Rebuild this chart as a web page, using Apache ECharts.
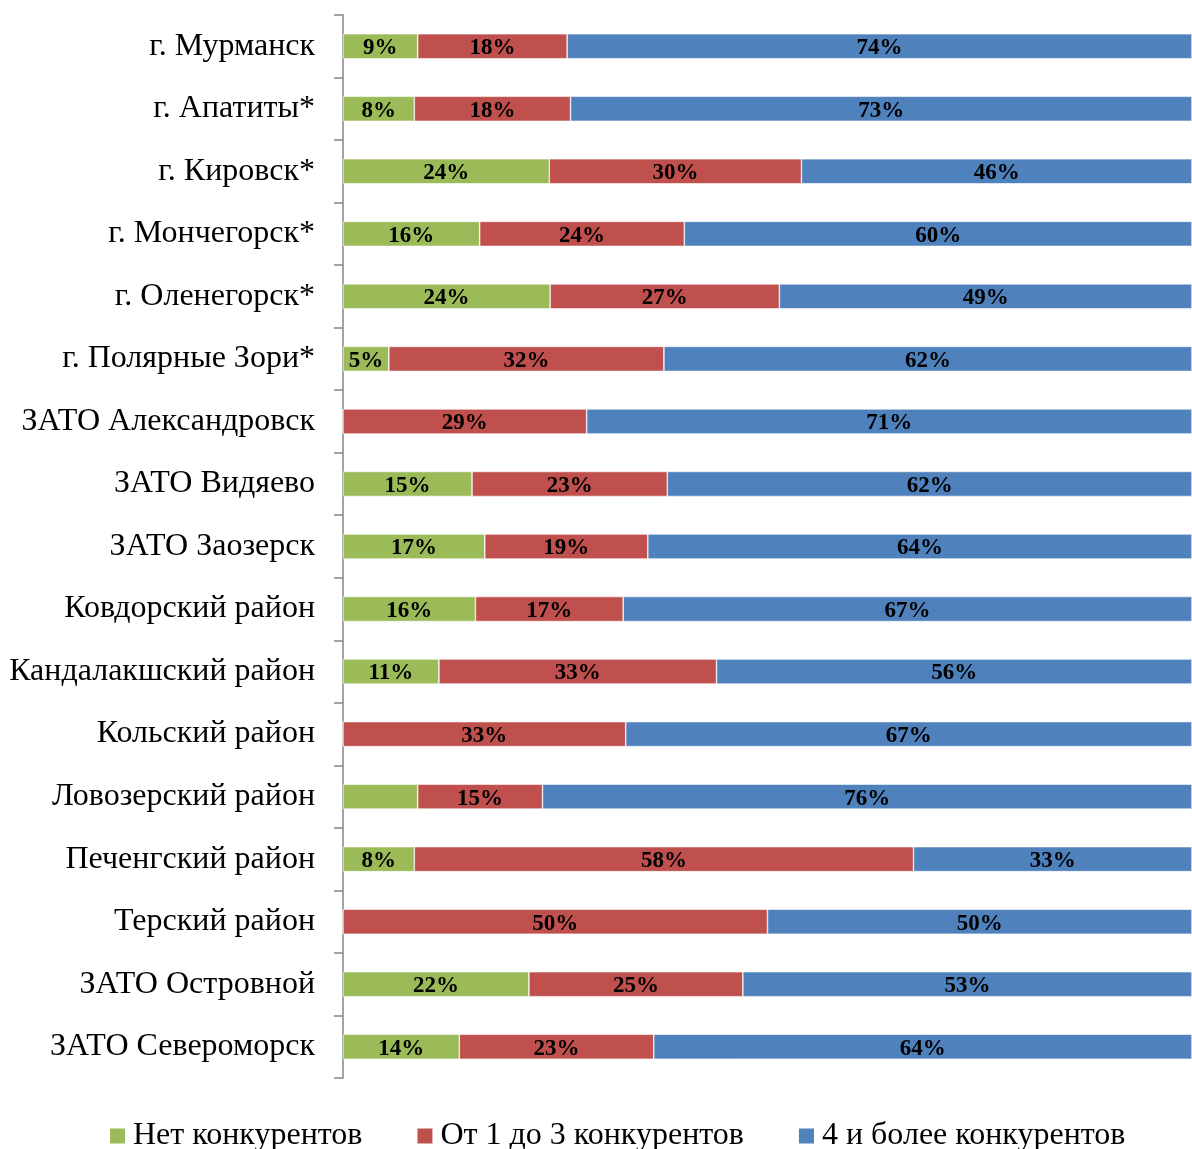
<!DOCTYPE html>
<html>
<head>
<meta charset="utf-8">
<script src="https://cdn.jsdelivr.net/npm/echarts@6/dist/echarts.min.js"></script>
<style>
  html, body { margin: 0; padding: 0; background: #fff; }
  #chart { width: 1192px; height: 1149px; }
</style>
</head>
<body>
<div id="chart"></div>
<script>
// категории (сверху вниз)
const categories = [
  'г. Мурманск', 'г. Апатиты*', 'г. Кировск*', 'г. Мончегорск*', 'г. Оленегорск*',
  'г. Полярные Зори*', 'ЗАТО Александровск', 'ЗАТО Видяево', 'ЗАТО Заозерск',
  'Ковдорский район', 'Кандалакшский район', 'Кольский район', 'Ловозерский район',
  'Печенгский район', 'Терский район', 'ЗАТО Островной', 'ЗАТО Североморск'
];

const seriesNames = ['Нет конкурентов', 'От 1 до 3 конкурентов', '4 и более конкурентов'];

// доли, считанные по длине сегментов
const noneValues = [8.8, 8.4, 24.3, 16.1, 24.4, 5.4, 0, 15.2, 16.7, 15.6, 11.3, 0, 8.8, 8.4, 0, 21.9, 13.7];
const fewValues  = [17.6, 18.4, 29.7, 24.1, 27.0, 32.4, 28.7, 23.0, 19.2, 17.4, 32.7, 33.3, 14.7, 58.8, 50.0, 25.2, 22.9];
const manyValues = [73.6, 73.2, 46.0, 59.8, 48.6, 62.2, 71.3, 61.8, 64.1, 67.0, 56.0, 66.7, 76.5, 32.8, 50.0, 52.9, 63.4];

// подписи на столбцах
const noneLabels = ['9%', '8%', '24%', '16%', '24%', '5%', '', '15%', '17%', '16%', '11%', '', '', '8%', '', '22%', '14%'];
const fewLabels  = ['18%', '18%', '30%', '24%', '27%', '32%', '29%', '23%', '19%', '17%', '33%', '33%', '15%', '58%', '50%', '25%', '23%'];
const manyLabels = ['74%', '73%', '46%', '60%', '49%', '62%', '71%', '62%', '64%', '67%', '56%', '67%', '76%', '33%', '50%', '53%', '64%'];

const colors = ['#9bbb59', '#c0504d', '#4f81bd'];
const font = '"Liberation Serif", "Times New Roman", serif';

function makeSeries(name, values, labels, color) {
  return {
    name: name,
    type: 'bar',
    stack: 'total',
    barWidth: 25,
    data: values,
    itemStyle: { color: color, borderColor: '#fff', borderWidth: 0.6 },
    label: {
      show: true,
      position: 'inside',
      offset: [0, 2],
      color: '#000',
      fontFamily: font,
      fontWeight: 'bold',
      fontSize: 23,
      formatter: (p) => labels[p.dataIndex]
    }
  };
}

const chart = echarts.init(document.getElementById('chart'));

const option = {
  animation: false,
  color: colors,
  grid: { left: 343, right: 0, top: 15, bottom: 71, containLabel: false },
  xAxis: {
    type: 'value',
    min: 0,
    max: 100,
    show: false
  },
  yAxis: {
    type: 'category',
    inverse: true,
    data: categories,
    axisLine: { lineStyle: { color: '#868686', width: 1.5 } },
    axisTick: { show: true, length: 9, lineStyle: { color: '#868686', width: 1.5 } },
    axisLabel: {
      color: '#000',
      fontFamily: font,
      fontSize: 32,
      margin: 28,
      padding: [5, 0, 0, 0]
    }
  },
  legend: {
    bottom: -8,
    left: 103,
    itemWidth: 17,
    itemHeight: 17,
    itemGap: 53,
    icon: 'rect',
    textStyle: { fontFamily: font, fontSize: 32, color: '#000', padding: [0, 0, 0, 2] },
    data: seriesNames
  },
  series: [
    makeSeries(seriesNames[0], noneValues, noneLabels, colors[0]),
    makeSeries(seriesNames[1], fewValues, fewLabels, colors[1]),
    makeSeries(seriesNames[2], manyValues, manyLabels, colors[2])
  ]
};

chart.setOption(option);
</script>
</body>
</html>
